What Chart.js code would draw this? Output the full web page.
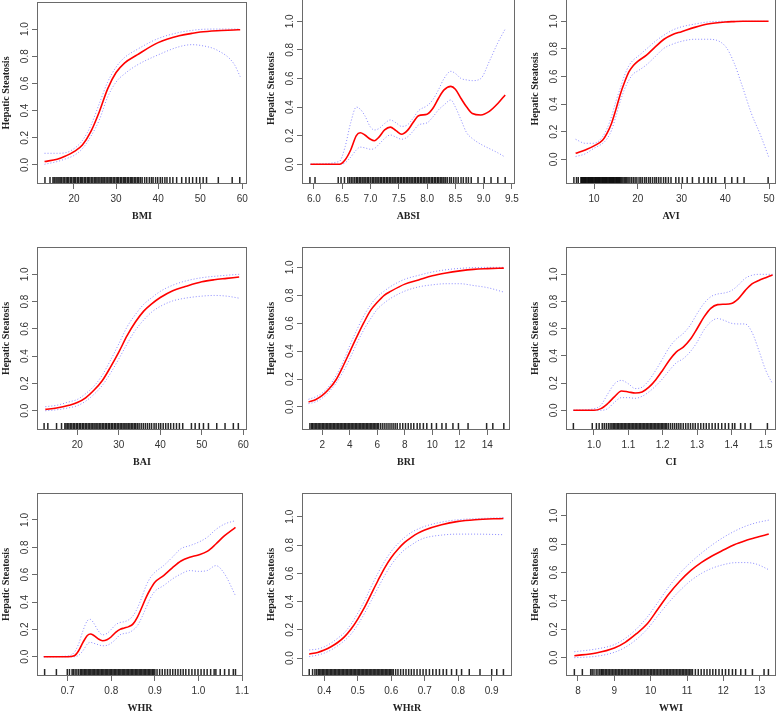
<!DOCTYPE html>
<html>
<head>
<meta charset="utf-8">
<script src="https://cdn.jsdelivr.net/npm/chart.js@4.4.0/dist/chart.umd.min.js"></script>
<style>
  html, body { margin: 0; padding: 0; background: #fff; }
  #wrap { position: relative; width: 779px; height: 712px; overflow: hidden; }
  #wrap canvas { position: absolute; }
</style>
</head>
<body>
<div id="wrap"></div>
<script>
// ---- BMI
const bmiX     = [13, 16, 18, 20, 22, 24, 26, 28, 30, 32, 35, 40, 45, 48, 50, 54, 58, 59.5];
const bmiFit   = [0.025, 0.042, 0.066, 0.098, 0.147, 0.245, 0.39, 0.56, 0.68, 0.75, 0.81, 0.9, 0.95, 0.968, 0.978, 0.988, 0.993, 0.995];
const bmiUpper = [0.086, 0.086, 0.09, 0.12, 0.18, 0.29, 0.45, 0.61, 0.72, 0.79, 0.85, 0.93, 0.975, 0.99, 0.997, 1.0, 1.0, 1.0];
const bmiLower = [0.005, 0.025, 0.045, 0.07, 0.12, 0.21, 0.33, 0.5, 0.61, 0.67, 0.735, 0.81, 0.87, 0.885, 0.88, 0.845, 0.745, 0.65];
const bmiTicks = [20, 30, 40, 50, 60];
const bmiRug   = [13.1, 14.3, 15.0, 15.3, 15.7, 16.0, 16.4, 16.7, 17.0, 17.4, 17.7, 18.1, 18.4, 18.7, 19.1, 19.4, 19.8, 20.1, 20.4, 20.8,
  21.1, 21.5, 21.8, 22.1, 22.5, 22.8, 23.2, 23.5, 23.8, 24.2, 24.5, 24.9, 25.2, 25.5, 25.9, 26.2, 26.6, 26.9, 27.2, 27.6, 27.9,
  28.3, 28.6, 28.9, 29.3, 29.6, 30.0, 30.3, 30.6, 31.0, 31.3, 31.7, 32.0, 32.3, 32.7, 33.0, 33.4, 33.7, 34.0, 34.4, 34.7, 35.1,
  35.4, 35.8, 36.2, 36.8, 37.3, 37.9, 38.4, 38.8, 39.4, 39.9, 40.5, 41.0, 41.6, 42.1, 42.8, 43.5, 44.4, 45.6, 46.6, 47.4, 48.2,
  49.1, 49.9, 50.7, 51.5, 54.3, 57.6, 59.4];

// ---- ABSI
const absiX     = [5.94, 6.45, 6.55, 6.65, 6.75, 6.82, 6.9, 7.0, 7.07, 7.15, 7.25, 7.35, 7.45, 7.55, 7.65, 7.75, 7.85, 8.0, 8.1, 8.2, 8.3, 8.42, 8.5, 8.6, 8.7, 8.8, 8.95, 9.1, 9.25, 9.38];
const absiFit   = [0, 0, 0.03, 0.1, 0.2, 0.22, 0.205, 0.175, 0.165, 0.19, 0.24, 0.26, 0.235, 0.21, 0.235, 0.29, 0.34, 0.35, 0.39, 0.46, 0.52, 0.545, 0.525, 0.46, 0.4, 0.355, 0.345, 0.37, 0.425, 0.485];
const absiUpper = [0, 0.02, 0.12, 0.29, 0.4, 0.385, 0.34, 0.26, 0.24, 0.25, 0.285, 0.31, 0.29, 0.265, 0.275, 0.32, 0.375, 0.41, 0.45, 0.52, 0.6, 0.65, 0.635, 0.6, 0.59, 0.585, 0.6, 0.72, 0.85, 0.946];
const absiLower = [0, 0, 0.01, 0.05, 0.1, 0.12, 0.115, 0.105, 0.11, 0.14, 0.18, 0.205, 0.19, 0.175, 0.19, 0.23, 0.275, 0.29, 0.33, 0.38, 0.415, 0.45, 0.4, 0.31, 0.22, 0.18, 0.14, 0.11, 0.08, 0.05];
const absiTicks = [6.0, 6.5, 7.0, 7.5, 8.0, 8.5, 9.0, 9.5];
const absiRug   = [5.93, 6.02, 6.43, 6.48, 6.54, 6.6, 6.63, 6.66, 6.69, 6.72, 6.75, 6.77, 6.8, 6.82, 6.85, 6.87, 6.9, 6.92, 6.95, 6.97,
  7.0, 7.03, 7.05, 7.08, 7.1, 7.13, 7.15, 7.18, 7.2, 7.23, 7.25, 7.28, 7.3, 7.33, 7.35, 7.38, 7.4, 7.43, 7.45, 7.48, 7.5, 7.53,
  7.55, 7.58, 7.6, 7.63, 7.65, 7.68, 7.7, 7.73, 7.75, 7.78, 7.8, 7.83, 7.85, 7.88, 7.9, 7.93, 7.95, 7.98, 8.0, 8.03, 8.05, 8.08,
  8.1, 8.13, 8.15, 8.18, 8.2, 8.23, 8.25, 8.28, 8.3, 8.33, 8.36, 8.4, 8.43, 8.47, 8.51, 8.55, 8.6, 8.64, 8.69, 8.73, 8.78, 8.9,
  9.01, 9.13, 9.25, 9.38];

// ---- AVI
const aviX     = [5.8, 8, 10, 12, 13, 14, 15, 16, 17, 18, 19, 20, 22, 24, 26, 28, 30, 33, 36, 40, 42, 44, 46, 48, 49.9];
const aviFit   = [0.043, 0.068, 0.097, 0.14, 0.19, 0.26, 0.36, 0.47, 0.56, 0.635, 0.68, 0.71, 0.755, 0.815, 0.87, 0.905, 0.925, 0.956, 0.98, 0.995, 0.998, 1.0, 1.0, 1.0, 1.0];
const aviUpper = [0.145, 0.116, 0.116, 0.165, 0.225, 0.31, 0.42, 0.515, 0.61, 0.68, 0.72, 0.745, 0.8, 0.855, 0.9, 0.937, 0.96, 0.98, 0.995, 1.0, 1.0, 1.0, 1.0, 1.0, 1.0];
const aviLower = [0.02, 0.04, 0.08, 0.116, 0.15, 0.21, 0.31, 0.42, 0.51, 0.575, 0.62, 0.64, 0.685, 0.745, 0.805, 0.835, 0.855, 0.87, 0.87, 0.82, 0.7, 0.52, 0.33, 0.18, 0.02];
const aviTicks = [10, 20, 30, 40, 50];
const aviRug   = [5.4, 6.0, 6.4, 7.0, 7.2, 7.4, 7.6, 7.8, 8.0, 8.2, 8.4, 8.6, 8.8, 9.0, 9.2, 9.4, 9.6, 9.8, 10.0, 10.2, 10.4,
  10.6, 10.8, 11.0, 11.2, 11.4, 11.6, 11.8, 12.0, 12.2, 12.4, 12.6, 12.8, 13.0, 13.2, 13.4, 13.6, 13.8, 14.0, 14.2, 14.4, 14.6,
  14.8, 15.0, 15.2, 15.4, 15.6, 15.8, 16.0, 16.3, 16.6, 16.9, 17.2, 17.5, 17.8, 18.2, 18.6, 19.0, 19.4, 19.8, 20.3, 20.7, 21.1,
  21.6, 22.0, 22.5, 22.9, 23.4, 23.9, 24.3, 24.8, 25.3, 25.9, 26.4, 27.0, 27.6, 28.7, 29.4, 30.2, 31.3, 32.5, 34.0, 35.1, 36.1,
  36.9, 37.8, 39.9, 41.5, 42.8, 44.3, 49.8];

// ---- BAI
const baiX     = [12.3, 15, 18, 20, 22, 24, 26, 28, 30, 32, 34, 36, 38, 40, 43, 46, 50, 53, 56, 59];
const baiFit   = [0.01, 0.02, 0.04, 0.06, 0.095, 0.15, 0.22, 0.32, 0.43, 0.55, 0.65, 0.73, 0.785, 0.83, 0.88, 0.91, 0.945, 0.96, 0.97, 0.98];
const baiUpper = [0.03, 0.04, 0.065, 0.083, 0.125, 0.18, 0.26, 0.37, 0.49, 0.615, 0.705, 0.78, 0.83, 0.875, 0.92, 0.95, 0.975, 0.985, 0.993, 1.0];
const baiLower = [0.0, 0.007, 0.022, 0.037, 0.07, 0.12, 0.185, 0.275, 0.38, 0.49, 0.59, 0.665, 0.725, 0.765, 0.805, 0.825, 0.84, 0.845, 0.84, 0.825];
const baiTicks = [20, 30, 40, 50, 60];
const baiRug   = [12.0, 12.9, 15.0, 16.2, 17.0, 17.3, 17.7, 18.0, 18.4, 18.7, 19.1, 19.4, 19.8, 20.1, 20.5, 20.8, 21.2, 21.5, 21.9,
  22.2, 22.6, 22.9, 23.3, 23.6, 24.0, 24.3, 24.7, 25.0, 25.4, 25.7, 26.1, 26.4, 26.8, 27.1, 27.5, 27.8, 28.2, 28.5, 28.9, 29.2,
  29.6, 29.9, 30.3, 30.6, 31.0, 31.3, 31.7, 32.0, 32.4, 32.7, 33.1, 33.4, 33.8, 34.1, 34.5, 34.9, 35.4, 35.9, 36.4, 36.9, 37.4,
  37.9, 38.5, 39.0, 39.6, 40.1, 40.7, 41.3, 41.9, 42.5, 43.2, 43.9, 44.6, 45.4, 47.5, 48.4, 49.4, 50.4, 51.6, 53.6, 55.6, 57.6, 58.8];

// ---- BRI
const briX     = [1.0, 1.5, 2, 2.5, 3, 3.5, 4, 4.5, 5, 5.5, 6, 6.5, 7, 8, 9, 10, 11, 12, 13, 14, 15.2];
const briFit   = [0.036, 0.052, 0.083, 0.13, 0.195, 0.29, 0.395, 0.5, 0.6, 0.69, 0.75, 0.8, 0.83, 0.88, 0.91, 0.94, 0.96, 0.975, 0.986, 0.991, 0.995];
const briUpper = [0.055, 0.072, 0.1, 0.15, 0.225, 0.32, 0.44, 0.55, 0.65, 0.73, 0.79, 0.83, 0.865, 0.915, 0.943, 0.967, 0.983, 0.993, 0.998, 1.0, 1.0];
const briLower = [0.024, 0.036, 0.064, 0.11, 0.17, 0.25, 0.346, 0.453, 0.55, 0.63, 0.7, 0.745, 0.78, 0.83, 0.86, 0.875, 0.883, 0.883, 0.87, 0.855, 0.823];
const briTicks = [2, 4, 6, 8, 10, 12, 14];
const briRug   = [1.1, 1.22, 1.3, 1.4, 1.5, 1.6, 1.7, 1.8, 1.9, 2.0, 2.1, 2.2, 2.3, 2.4, 2.5, 2.6, 2.7, 2.8, 2.9, 3.0, 3.1, 3.2,
  3.3, 3.4, 3.5, 3.6, 3.7, 3.8, 3.9, 4.0, 4.1, 4.2, 4.3, 4.4, 4.5, 4.6, 4.7, 4.8, 4.9, 5.0, 5.1, 5.2, 5.3, 5.4, 5.5, 5.6, 5.7,
  5.8, 5.9, 6.0, 6.1, 6.25, 6.4, 6.55, 6.7, 6.85, 7.0, 7.15, 7.3, 7.45, 7.65, 7.85, 8.05, 8.25, 8.45, 8.65, 8.9, 9.1, 9.35, 9.6,
  9.95, 10.3, 10.7, 11.0, 11.5, 11.9, 12.6, 13.95, 14.4, 15.2];

// ---- CI
const ciX     = [0.94, 1.0, 1.02, 1.04, 1.06, 1.08, 1.1, 1.12, 1.14, 1.16, 1.18, 1.2, 1.22, 1.24, 1.26, 1.28, 1.3, 1.32, 1.34, 1.36, 1.38, 1.4, 1.42, 1.44, 1.46, 1.48, 1.5, 1.52];
const ciFit   = [0, 0, 0.012, 0.05, 0.1, 0.142, 0.135, 0.127, 0.135, 0.17, 0.225, 0.295, 0.37, 0.43, 0.465, 0.52, 0.6, 0.685, 0.75, 0.777, 0.78, 0.785, 0.82, 0.88, 0.93, 0.955, 0.975, 0.995];
const ciUpper = [0, 0.012, 0.037, 0.12, 0.195, 0.22, 0.195, 0.16, 0.17, 0.22, 0.295, 0.38, 0.465, 0.525, 0.565, 0.625, 0.71, 0.785, 0.835, 0.855, 0.863, 0.88, 0.92, 0.97, 0.993, 1.0, 1.0, 1.0];
const ciLower = [0, 0, 0, 0.012, 0.06, 0.093, 0.093, 0.088, 0.103, 0.135, 0.18, 0.233, 0.295, 0.35, 0.38, 0.43, 0.5, 0.59, 0.65, 0.675, 0.66, 0.64, 0.635, 0.635, 0.575, 0.44, 0.295, 0.195];
const ciTicks = [1.0, 1.1, 1.2, 1.3, 1.4, 1.5];
const ciRug   = [0.94, 0.995, 1.007, 1.015, 1.024, 1.03, 1.036, 1.042, 1.047, 1.052, 1.056, 1.06, 1.064, 1.068, 1.072, 1.076, 1.08,
  1.084, 1.088, 1.092, 1.096, 1.1, 1.104, 1.108, 1.112, 1.116, 1.12, 1.124, 1.128, 1.132, 1.136, 1.14, 1.144, 1.148, 1.152, 1.156,
  1.16, 1.164, 1.168, 1.172, 1.176, 1.18, 1.184, 1.188, 1.192, 1.196, 1.2, 1.204, 1.208, 1.212, 1.217, 1.223, 1.229, 1.235, 1.241,
  1.247, 1.253, 1.26, 1.267, 1.274, 1.281, 1.288, 1.295, 1.303, 1.311, 1.319, 1.327, 1.335, 1.344, 1.353, 1.362, 1.372, 1.382,
  1.392, 1.403, 1.41, 1.427, 1.44, 1.456, 1.505];

// ---- WHR
const whrX     = [0.645, 0.7, 0.715, 0.725, 0.735, 0.745, 0.752, 0.76, 0.77, 0.78, 0.79, 0.8, 0.81, 0.82, 0.83, 0.84, 0.85, 0.86, 0.87, 0.88, 0.89, 0.9, 0.92, 0.94, 0.96, 0.98, 1.0, 1.02, 1.04, 1.06, 1.085];
const whrFit   = [0, 0, 0.007, 0.044, 0.105, 0.155, 0.166, 0.155, 0.13, 0.117, 0.124, 0.146, 0.178, 0.2, 0.21, 0.22, 0.24, 0.29, 0.36, 0.434, 0.495, 0.544, 0.593, 0.65, 0.7, 0.727, 0.744, 0.77, 0.824, 0.885, 0.946];
const whrUpper = [0, 0.005, 0.032, 0.093, 0.19, 0.263, 0.273, 0.244, 0.19, 0.16, 0.17, 0.2, 0.234, 0.25, 0.256, 0.27, 0.3, 0.356, 0.434, 0.52, 0.58, 0.617, 0.666, 0.727, 0.79, 0.812, 0.837, 0.873, 0.93, 0.97, 0.995];
const whrLower = [0, 0, 0, 0.01, 0.044, 0.093, 0.105, 0.098, 0.088, 0.08, 0.083, 0.1, 0.127, 0.16, 0.17, 0.176, 0.195, 0.227, 0.288, 0.36, 0.43, 0.478, 0.52, 0.568, 0.605, 0.63, 0.624, 0.63, 0.666, 0.605, 0.446];
const whrTicks = [0.7, 0.8, 0.9, 1.0, 1.1];
const whrRug   = [0.647, 0.674, 0.699, 0.704, 0.71, 0.713, 0.717, 0.721, 0.725, 0.729, 0.732, 0.735, 0.738, 0.741, 0.744, 0.747,
  0.75, 0.753, 0.756, 0.759, 0.762, 0.765, 0.768, 0.771, 0.774, 0.777, 0.78, 0.783, 0.786, 0.789, 0.792, 0.795, 0.798, 0.801,
  0.804, 0.807, 0.81, 0.813, 0.816, 0.819, 0.822, 0.825, 0.828, 0.831, 0.834, 0.837, 0.84, 0.843, 0.846, 0.849, 0.852, 0.855,
  0.858, 0.861, 0.864, 0.867, 0.87, 0.873, 0.876, 0.879, 0.882, 0.885, 0.888, 0.891, 0.894, 0.897, 0.9, 0.905, 0.911, 0.917,
  0.923, 0.929, 0.935, 0.941, 0.947, 0.953, 0.959, 0.965, 0.971, 0.978, 0.985, 0.992, 0.999, 1.006, 1.013, 1.02, 1.028, 1.036,
  1.04, 1.05, 1.06, 1.07, 1.08, 1.085];

// ---- WHtR
const whtrX     = [0.355, 0.38, 0.4, 0.42, 0.44, 0.46, 0.48, 0.5, 0.52, 0.54, 0.56, 0.58, 0.6, 0.62, 0.64, 0.66, 0.68, 0.7, 0.75, 0.8, 0.85, 0.935];
const whtrFit   = [0.028, 0.04, 0.057, 0.08, 0.11, 0.15, 0.205, 0.276, 0.358, 0.453, 0.547, 0.637, 0.712, 0.77, 0.818, 0.854, 0.884, 0.906, 0.943, 0.967, 0.979, 0.988];
const whtrUpper = [0.057, 0.064, 0.08, 0.106, 0.14, 0.18, 0.24, 0.318, 0.405, 0.505, 0.6, 0.684, 0.755, 0.81, 0.854, 0.889, 0.913, 0.932, 0.962, 0.979, 0.986, 0.993];
const whtrLower = [0.01, 0.021, 0.035, 0.057, 0.087, 0.123, 0.17, 0.236, 0.316, 0.405, 0.495, 0.583, 0.66, 0.72, 0.767, 0.8, 0.83, 0.85, 0.87, 0.877, 0.877, 0.873];
const whtrTicks = [0.4, 0.5, 0.6, 0.7, 0.8, 0.9];
const whtrRug   = [0.355, 0.365, 0.372, 0.377, 0.382, 0.386, 0.39, 0.394, 0.398, 0.402, 0.406, 0.41, 0.414, 0.418, 0.422, 0.426,
  0.43, 0.434, 0.438, 0.442, 0.446, 0.45, 0.454, 0.458, 0.462, 0.466, 0.47, 0.474, 0.478, 0.482, 0.486, 0.49, 0.494, 0.498, 0.502,
  0.506, 0.51, 0.514, 0.518, 0.522, 0.526, 0.53, 0.534, 0.538, 0.542, 0.546, 0.55, 0.554, 0.558, 0.562, 0.566, 0.57, 0.574, 0.578,
  0.582, 0.586, 0.59, 0.594, 0.598, 0.602, 0.606, 0.613, 0.62, 0.628, 0.636, 0.644, 0.652, 0.66, 0.668, 0.677, 0.686, 0.695, 0.704,
  0.714, 0.724, 0.734, 0.744, 0.755, 0.765, 0.78, 0.795, 0.81, 0.833, 0.865, 0.9, 0.915, 0.935];

// ---- WWI
const wwiX     = [7.9, 8.5, 9, 9.3, 9.6, 9.9, 10.2, 10.5, 10.8, 11.1, 11.4, 11.7, 12, 12.3, 12.6, 12.9, 13.25];
const wwiFit   = [0.014, 0.033, 0.068, 0.108, 0.167, 0.237, 0.343, 0.448, 0.538, 0.613, 0.671, 0.718, 0.758, 0.796, 0.824, 0.847, 0.871];
const wwiUpper = [0.042, 0.061, 0.092, 0.136, 0.2, 0.284, 0.39, 0.5, 0.594, 0.671, 0.737, 0.796, 0.847, 0.89, 0.925, 0.95, 0.969];
const wwiLower = [0.0, 0.01, 0.038, 0.073, 0.127, 0.2, 0.296, 0.39, 0.472, 0.542, 0.594, 0.631, 0.655, 0.669, 0.67, 0.66, 0.62];
const wwiTicks = [8, 9, 10, 11, 12, 13];
const wwiRug   = [7.9, 8.12, 8.35, 8.39, 8.44, 8.5, 8.55, 8.6, 8.64, 8.67, 8.71, 8.75, 8.79, 8.83, 8.87, 8.91, 8.95, 8.99, 9.03,
  9.07, 9.11, 9.15, 9.19, 9.23, 9.27, 9.31, 9.35, 9.39, 9.43, 9.47, 9.51, 9.55, 9.59, 9.63, 9.67, 9.71, 9.75, 9.79, 9.83, 9.87,
  9.91, 9.95, 9.99, 10.03, 10.07, 10.11, 10.15, 10.19, 10.23, 10.27, 10.31, 10.35, 10.39, 10.43, 10.47, 10.51, 10.55, 10.59,
  10.63, 10.67, 10.71, 10.75, 10.79, 10.83, 10.87, 10.91, 10.95, 10.99, 11.03, 11.07, 11.11, 11.15, 11.23, 11.31, 11.39, 11.47,
  11.55, 11.63, 11.71, 11.79, 11.88, 11.97, 12.06, 12.15, 12.25, 12.34, 12.48, 12.61, 12.8, 13.12, 13.24];

const yTicks = [0, 0.2, 0.4, 0.6, 0.8, 1.0];
const yTitle = 'Hepatic Steatosis';

// layout: plot box [left, top, right, bottom] in page pixels, axis ranges
const panels = [
  { name: 'BMI',  x: bmiX,  fit: bmiFit,  up: bmiUpper,  lo: bmiLower,  rug: bmiRug,  ticks: bmiTicks,  dec: 0, box: [37, 2, 247, 184],    xr: [11.21, 61.12],  yr: [-0.14, 1.199] },
  { name: 'ABSI', x: absiX, fit: absiFit, up: absiUpper, lo: absiLower, rug: absiRug, ticks: absiTicks, dec: 1, box: [302, -7, 517, 184],  xr: [5.79, 9.547],   yr: [-0.138, 1.198] },
  { name: 'AVI',  x: aviX,  fit: aviFit,  up: aviUpper,  lo: aviLower,  rug: aviRug,  ticks: aviTicks,  dec: 0, box: [566, -6, 776, 184],  xr: [3.6, 51.6],     yr: [-0.179, 1.198] },
  { name: 'BAI',  x: baiX,  fit: baiFit,  up: baiUpper,  lo: baiLower,  rug: baiRug,  ticks: baiTicks,  dec: 0, box: [37, 247, 247, 430],  xr: [10.29, 60.89],  yr: [-0.141, 1.2] },
  { name: 'BRI',  x: briX,  fit: briFit,  up: briUpper,  lo: briLower,  rug: briRug,  ticks: briTicks,  dec: 0, box: [302, 247, 510, 430], xr: [0.524, 15.65],  yr: [-0.165, 1.146] },
  { name: 'CI',   x: ciX,   fit: ciFit,   up: ciUpper,   lo: ciLower,   rug: ciRug,   ticks: ciTicks,   dec: 1, box: [566, 247, 776, 430], xr: [0.9185, 1.53],  yr: [-0.145, 1.201] },
  { name: 'WHR',  x: whrX,  fit: whrFit,  up: whrUpper,  lo: whrLower,  rug: whrRug,  ticks: whrTicks,  dec: 1, box: [37, 493, 247, 676],  xr: [0.6295, 1.1023], yr: [-0.141, 1.197] },
  { name: 'WHtR', x: whtrX, fit: whtrFit, up: whtrUpper, lo: whtrLower, rug: whtrRug, ticks: whtrTicks, dec: 1, box: [302, 493, 512, 676], xr: [0.3334, 0.9606], yr: [-0.127, 1.168] },
  { name: 'WWI',  x: wwiX,  fit: wwiFit,  up: wwiUpper,  lo: wwiLower,  rug: wwiRug,  ticks: wwiTicks,  dec: 0, box: [566, 493, 776, 676], xr: [7.67, 13.449],  yr: [-0.129, 1.16] }
];

const AXIS_W = 42;   // room left of the box
const AXIS_H = 42;   // room under the box
const PAD_T = 6, PAD_R = 6;
const RUG_LEN = 6;
const frameColor = '#6a6a6a';
const tickColor = '#333';
const rugColor = 'rgba(0,0,0,0.85)';
const sansFont = { family: 'Liberation Sans, Arial, sans-serif', size: 10 };
const serifFont = { family: 'Liberation Serif, Times New Roman, serif', size: 10, weight: 'bold' };

Chart.defaults.font.family = sansFont.family;

const pts = (xs, ys) => xs.map((x, i) => ({ x: x, y: ys[i] }));

// Rug along the bottom edge, frame around the plot area and R-style rotated y tick labels
const framePlugin = {
  id: 'frame',
  afterDatasetsDraw(chart, args, opts) {
    const ctx = chart.ctx;
    const a = chart.chartArea;
    const xs = chart.scales.x;
    ctx.save();
    ctx.strokeStyle = rugColor;
    ctx.lineWidth = 1.5;
    (opts.rug || []).forEach(function(v) {
      const px = xs.getPixelForValue(v);
      ctx.beginPath();
      ctx.moveTo(px, a.bottom - 1);
      ctx.lineTo(px, a.bottom - 1 - RUG_LEN);
      ctx.stroke();
    });
    ctx.restore();
  },
  afterDraw(chart) {
    const ctx = chart.ctx;
    const a = chart.chartArea;
    const ys = chart.scales.y;
    ctx.save();
    ctx.strokeStyle = frameColor;
    ctx.lineWidth = 1;
    ctx.strokeRect(Math.round(a.left) + 0.5, Math.round(a.top) + 0.5,
                   Math.round(a.right - a.left) - 1, Math.round(a.bottom - a.top) - 1);

    ctx.fillStyle = tickColor;
    ctx.font = `${sansFont.size}px ${sansFont.family}`;
    ctx.textAlign = 'center';
    ctx.textBaseline = 'middle';
    ys.ticks.forEach(function(t) {
      const py = ys.getPixelForValue(t.value);
      ctx.save();
      ctx.translate(a.left - 12, py);
      ctx.rotate(-Math.PI / 2);
      ctx.fillText(Number(t.value).toFixed(1), 0, 0);
      ctx.restore();
    });
    ctx.restore();
  }
};

const wrap = document.getElementById('wrap');

panels.forEach(function(p) {
  const [L, T, R, B] = p.box;
  const canvas = document.createElement('canvas');
  const w = (R - L) + AXIS_W + PAD_R;
  const h = (B - T) + PAD_T + AXIS_H;
  canvas.width = w;
  canvas.height = h;
  canvas.style.left = (L - AXIS_W) + 'px';
  canvas.style.top = (T - PAD_T) + 'px';
  canvas.style.width = w + 'px';
  canvas.style.height = h + 'px';
  wrap.appendChild(canvas);

  new Chart(canvas.getContext('2d'), {
    type: 'line',
    data: {
      datasets: [
        {
          data: pts(p.x, p.fit),
          borderColor: '#ff0000',
          borderWidth: 1.6,
          pointRadius: 0,
          cubicInterpolationMode: 'monotone'
        },
        {
          data: pts(p.x, p.up),
          borderColor: 'rgba(100,100,255,0.75)',
          borderWidth: 1,
          borderDash: [1, 2],
          pointRadius: 0,
          cubicInterpolationMode: 'monotone'
        },
        {
          data: pts(p.x, p.lo),
          borderColor: 'rgba(100,100,255,0.75)',
          borderWidth: 1,
          borderDash: [1, 2],
          pointRadius: 0,
          cubicInterpolationMode: 'monotone'
        }
      ]
    },
    options: {
      responsive: false,
      devicePixelRatio: 1,
      animation: false,
      events: [],
      layout: { padding: { top: PAD_T, right: PAD_R, left: 0, bottom: 0 } },
      plugins: {
        legend: { display: false },
        tooltip: { enabled: false },
        frame: { rug: p.rug }
      },
      scales: {
        x: {
          type: 'linear',
          min: p.xr[0],
          max: p.xr[1],
          afterBuildTicks: s => { s.ticks = p.ticks.map(v => ({ value: v })); },
          afterFit: s => { s.height = AXIS_H; },
          ticks: {
            callback: v => Number(v).toFixed(p.dec),
            color: tickColor,
            font: sansFont,
            padding: 4,
            autoSkip: false,
            maxRotation: 0,
            minRotation: 0
          },
          grid: { drawOnChartArea: false, drawTicks: true, tickLength: 5, color: frameColor },
          border: { display: false },
          title: { display: true, text: p.name, color: '#222', font: serifFont, padding: { top: 0, bottom: 4 } }
        },
        y: {
          type: 'linear',
          min: p.yr[0],
          max: p.yr[1],
          afterBuildTicks: s => { s.ticks = yTicks.map(v => ({ value: v })); },
          afterFit: s => { s.width = AXIS_W; },
          ticks: { display: false },
          grid: { drawOnChartArea: false, drawTicks: true, tickLength: 5, color: frameColor },
          border: { display: false },
          title: { display: true, text: yTitle, color: '#222', font: serifFont, padding: { top: 5, bottom: 0 } }
        }
      }
    },
    plugins: [framePlugin]
  });
});
</script>
</body>
</html>
